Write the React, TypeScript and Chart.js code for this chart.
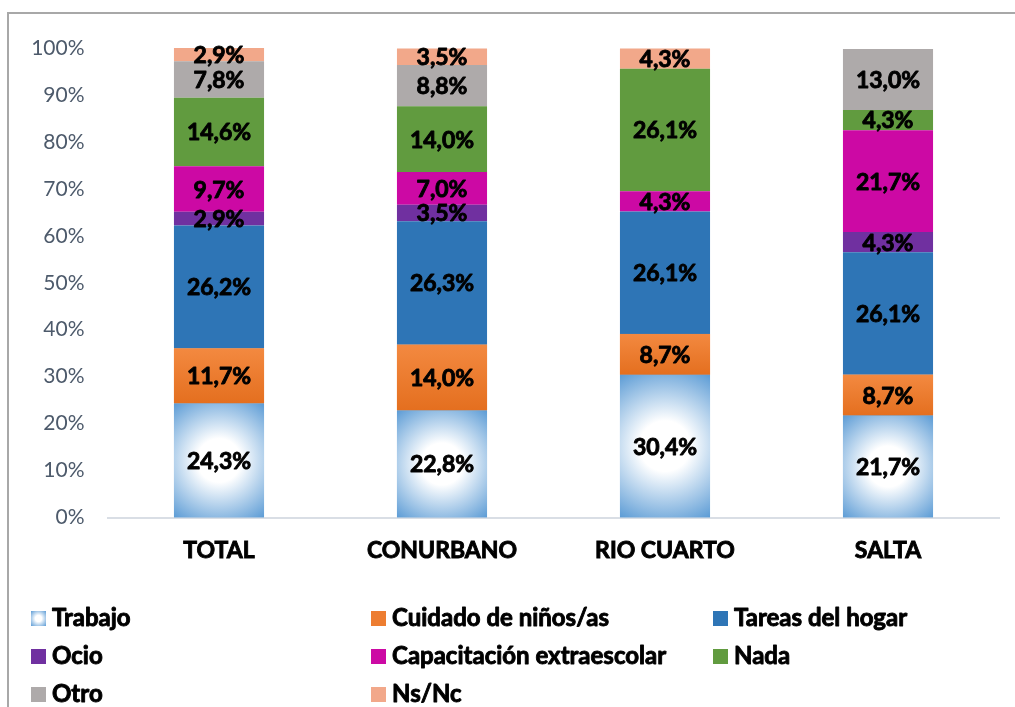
import React, { useEffect, useRef } from "react";
import { Chart, registerables } from "chart.js";

Chart.register(...registerables);

const categories = ["TOTAL", "CONURBANO", "RIO CUARTO", "SALTA"];
const seriesNames = [
  "Trabajo",
  "Cuidado de niños/as",
  "Tareas del hogar",
  "Ocio",
  "Capacitación extraescolar",
  "Nada",
  "Otro",
  "Ns/Nc",
];
const trabajo = [24.3, 22.8, 30.4, 21.7];
const cuidado = [11.7, 14.0, 8.7, 8.7];
const tareas = [26.2, 26.3, 26.1, 26.1];
const ocio = [2.9, 3.5, 0, 4.3];
const capacitacion = [9.7, 7.0, 4.3, 21.7];
const nada = [14.6, 14.0, 26.1, 4.3];
const otro = [7.8, 8.8, 0, 13.0];
const nsnc = [2.9, 3.5, 4.3, 0];
const yTicks = [0, 10, 20, 30, 40, 50, 60, 70, 80, 90, 100];

const seriesValues = [trabajo, cuidado, tareas, ocio, capacitacion, nada, otro, nsnc];
const seriesColors = [
  "#5B9BD5",
  "#ED7D31",
  "#2E75B6",
  "#7030A0",
  "#CC09A4",
  "#619B3F",
  "#AEAAAA",
  "#F2A88A",
];

const FONT = "Lato, 'Open Sans', sans-serif";

function fillRadial(ctx: CanvasRenderingContext2D, left: number, top: number, w: number, h: number) {
  ctx.save();
  ctx.beginPath();
  ctx.rect(left, top, w, h);
  ctx.clip();
  const cx = left + w / 2;
  const cy = top + h / 2;
  const r = Math.sqrt((w / 2) * (w / 2) + (h / 2) * (h / 2));
  const g = ctx.createRadialGradient(cx, cy, 0, cx, cy, r);
  g.addColorStop(0, "#FFFFFF");
  g.addColorStop(0.3, "#FFFFFF");
  g.addColorStop(1, "#5B9BD5");
  ctx.fillStyle = g;
  ctx.fillRect(left, top, w, h);
  ctx.restore();
}

const gradientPlugin = {
  id: "trabajoGradient",
  afterDatasetDraw(chart: any, args: any) {
    const ctx = chart.ctx;
    if (args.index === 0) {
      args.meta.data.forEach((el: any) => {
        const { x, y, base, width } = el.getProps(["x", "y", "base", "width"], true);
        const top = Math.min(y, base);
        const h = Math.abs(base - y);
        fillRadial(ctx, x - width / 2, top, width, h);
      });
    } else if (args.index === 1) {
      args.meta.data.forEach((el: any) => {
        const { x, y, base, width } = el.getProps(["x", "y", "base", "width"], true);
        const top = Math.min(y, base);
        const h = Math.abs(base - y);
        const g = ctx.createLinearGradient(0, top, 0, top + h);
        g.addColorStop(0, "#F38940");
        g.addColorStop(1, "#E46F1F");
        ctx.save();
        ctx.fillStyle = g;
        ctx.fillRect(x - width / 2, top, width, h);
        ctx.restore();
      });
    }
  },
};

function boldText(ctx: CanvasRenderingContext2D, txt: string, x: number, y: number) {
  ctx.lineWidth = 0.9;
  ctx.strokeStyle = "#000000";
  ctx.lineJoin = "round";
  ctx.strokeText(txt, x, y);
  ctx.fillText(txt, x, y);
}

const labelsPlugin = {
  id: "segmentLabels",
  afterDatasetsDraw(chart: any) {
    const ctx = chart.ctx;
    ctx.save();
    ctx.font = `bold 23px ${FONT}`;
    ctx.fillStyle = "#000000";
    ctx.textAlign = "center";
    ctx.textBaseline = "middle";
    chart.data.datasets.forEach((ds: any, di: number) => {
      const meta = chart.getDatasetMeta(di);
      meta.data.forEach((el: any, i: number) => {
        const v = ds.data[i];
        if (!v) return;
        const { x, y, base } = el.getProps(["x", "y", "base"], true);
        const txt = v.toFixed(1).replace(".", ",") + "%";
        boldText(ctx, txt, x, (y + base) / 2 + 1);
      });
    });
    ctx.restore();
  },
};

const legendPlugin = {
  id: "gridLegend",
  afterDraw(chart: any) {
    const ctx = chart.ctx;
    const colX = [31, 371, 713];
    const rowBase = [626, 664, 702];
    const box = 15;
    ctx.save();
    ctx.font = `bold 24px ${FONT}`;
    ctx.textAlign = "left";
    ctx.textBaseline = "alphabetic";
    seriesNames.forEach((name, i) => {
      const r = Math.floor(i / 3);
      const c = i % 3;
      const bx = colX[c];
      const by = rowBase[r] - box;
      if (i === 0) {
        fillRadial(ctx, bx, by, box, box);
      } else {
        ctx.fillStyle = seriesColors[i];
        ctx.fillRect(bx, by, box, box);
      }
      ctx.fillStyle = "#000000";
      boldText(ctx, name, bx + 21, rowBase[r]);
    });
    ctx.restore();
  },
};

export default function App() {
  const canvasRef = useRef<HTMLCanvasElement | null>(null);

  useEffect(() => {
    if (!canvasRef.current) return;
    const chart = new Chart(canvasRef.current, {
      type: "bar",
      data: {
        labels: categories,
        datasets: seriesNames.map((name, i) => ({
          label: name,
          data: seriesValues[i],
          backgroundColor: seriesColors[i],
          borderWidth: 0,
          barPercentage: 0.404,
          categoryPercentage: 1,
        })),
      },
      options: {
        animation: false,
        responsive: false,
        maintainAspectRatio: false,
        layout: { padding: { left: 0, right: 15.5, top: 48, bottom: 129.5 } },
        plugins: {
          legend: { display: false },
          tooltip: { enabled: false },
          title: { display: false },
        },
        scales: {
          x: {
            stacked: true,
            grid: { display: false, drawTicks: false },
            border: { display: true, color: "#D9DEE5", width: 2 },
            ticks: {
              color: "#000000",
              font: { family: FONT, size: 23, weight: "bold" },
              textStrokeColor: "#000000",
              textStrokeWidth: 0.9,
              padding: 19,
              maxRotation: 0,
            },
            afterFit(axis: any) {
              axis.height = 60;
            },
          },
          y: {
            stacked: true,
            min: 0,
            max: 100,
            grid: { display: false, drawTicks: false },
            border: { display: false },
            afterBuildTicks(axis: any) {
              axis.ticks = yTicks.map((v) => ({ value: v }));
            },
            ticks: {
              color: "#4D5A6B",
              font: { family: FONT, size: 21 },
              padding: 23,
              callback: (v: any) => v + "%",
            },
            afterFit(axis: any) {
              axis.width = 107.5;
            },
          },
        },
      },
      plugins: [gradientPlugin, labelsPlugin, legendPlugin],
    });
    return () => chart.destroy();
  }, []);

  return (
    <div
      style={{
        position: "fixed",
        left: 0,
        top: 0,
        width: 1015,
        height: 707,
        overflow: "hidden",
        background: "#FFFFFF",
      }}
    >
      <div
        style={{
          position: "absolute",
          left: 7,
          top: 12,
          width: 1100,
          height: 800,
          borderLeft: "2px solid #A8A8A8",
          borderTop: "2px solid #A8A8A8",
        }}
      />
      <canvas
        ref={canvasRef}
        width={1015}
        height={707}
        style={{ position: "absolute", left: 0, top: 0, width: 1015, height: 707 }}
      />
    </div>
  );
}
